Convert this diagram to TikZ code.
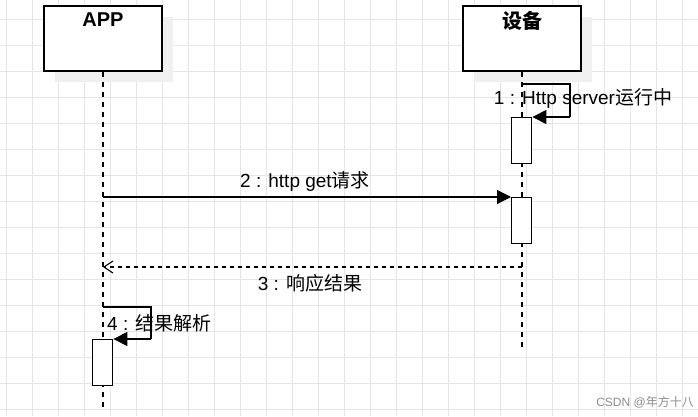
\documentclass[tikz,border=0pt]{standalone}
\usepackage{fontspec}
\setmainfont{Liberation Sans}
\newfontfamily\cjk{Noto Sans CJK SC}
\usetikzlibrary{arrows.meta,positioning}
\tikzset{
  actor/.style={draw,line width=2pt,fill=white,minimum width=118pt,minimum height=65pt,
    inner sep=0pt,anchor=north west,font=\bfseries\fontsize{20}{20}\selectfont,
    text depth=38pt},
  shade/.style={fill=black!6,draw=none},
  act/.style={draw,fill=white,line width=1.4pt,minimum width=20pt,minimum height=46pt,
    inner sep=0pt,anchor=north west},
  life/.style={line width=1.4pt,dash pattern=on 5pt off 5pt},
  msg/.style={line width=1.1pt,-{Triangle[length=14pt,width=14pt]}},
  reply/.style={line width=1.1pt,dash pattern=on 4pt off 4pt,-{Straight Barb[length=9pt,width=12pt]}},
  lbl/.style={font=\fontsize{19}{19}\selectfont}
}
\begin{document}
\begin{tikzpicture}[x=1pt,y=-1pt]
\useasboundingbox (0,0) rectangle (698,416);
% grid
\foreach \x in {6,32,...,698} \draw[black!10] (\x,0) -- (\x,416);
\foreach \y in {19,45,...,416} \draw[black!10] (0,\y) -- (698,\y);
% actors
\fill[shade] (55,17) rectangle +(118,65);
\fill[shade] (474,17) rectangle +(118,65);
\node[actor] (app) at (43,5) {APP};
\node[actor] (dev) at (462,5) {\cjk\bfseries 设备};
\coordinate (append) at (103,410);
\coordinate (devend) at (522,350);
\draw[life] (app.south) -- (append);
\draw[life] (dev.south) -- (devend);
% activations
\node[act] (a1) at (511,117) {};
\node[act] (a2) at (511,197) {};
\node[act] (a4) at (92,339) {};
% 1
\coordinate (s1a) at (522,84);
\coordinate (s1b) at (570,84);
\coordinate (s1c) at (570,117);
\draw[line width=1.4pt] (s1a) -- (s1b) -- (s1c);
\draw[msg] (s1c) -- (a1.north east);
\node[lbl] at (583,98) {1 : Http server{\cjk 运行中}};
% 2
\coordinate (m2) at (103,197);
\draw[msg] (m2) -- (a2.north west);
\node[lbl] at (305,181) {2 : http get{\cjk 请求}};
% 3
\coordinate (m3a) at (522,267);
\coordinate (m3b) at (103,267);
\draw[reply] (m3a) -- (m3b);
\node[lbl] at (310,283) {3 : {\cjk 响应结果}};
% 4
\coordinate (s4a) at (103,307);
\coordinate (s4b) at (151,307);
\coordinate (s4c) at (151,339);
\draw[line width=1.4pt] (s4a) -- (s4b) -- (s4c);
\draw[msg] (s4c) -- (a4.north east);
\node[lbl,anchor=west,inner sep=0pt] at (107,323) {4 : {\cjk 结果解析}};
% watermark
\node[black!45,font=\fontsize{12}{12}\selectfont] at (645,402) {CSDN @{\cjk 年方十八}};
\end{tikzpicture}
\end{document}
